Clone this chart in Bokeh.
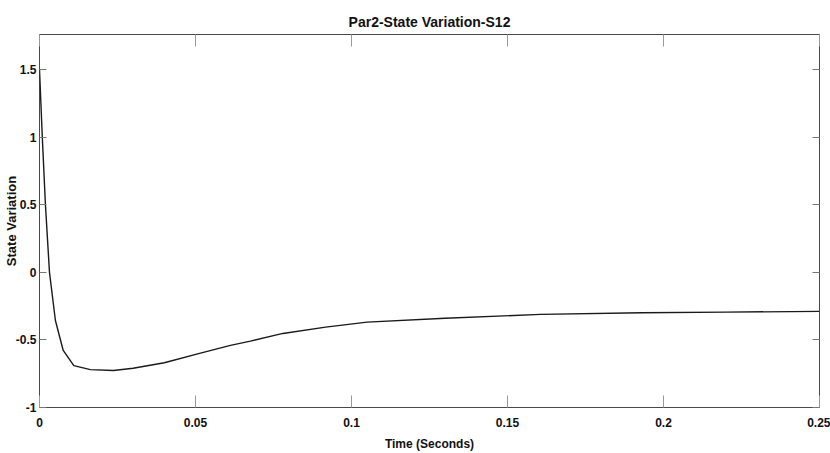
from bokeh.plotting import figure
from bokeh.models import Range1d, LinearAxis, FixedTicker
from bokeh.embed import file_html
from bokeh.resources import INLINE

# Data (time in seconds, state variation)
time_s = [0.0, 0.0009, 0.0019, 0.0032, 0.0051, 0.0076, 0.011, 0.0163, 0.0237,
          0.030, 0.040, 0.0516, 0.0612, 0.0676, 0.078, 0.0917, 0.105, 0.130,
          0.1606, 0.193, 0.220, 0.250]
state_var = [1.5, 1.0, 0.5, 0.0, -0.356, -0.578, -0.69, -0.72, -0.726,
             -0.71, -0.669, -0.598, -0.54, -0.509, -0.452, -0.405, -0.368, -0.34,
             -0.311, -0.299, -0.294, -0.289]

x_ticks = [0, 0.05, 0.1, 0.15, 0.2, 0.25]
x_tick_labels = {0: "0", 0.05: "0.05", 0.1: "0.1", 0.15: "0.15", 0.2: "0.2", 0.25: "0.25"}
y_ticks = [-1, -0.5, 0, 0.5, 1, 1.5]
y_tick_labels = {-1: "-1", -0.5: "-0.5", 0: "0", 0.5: "0.5", 1: "1", 1.5: "1.5"}

TITLE = "Par2-State Variation-S12"
X_LABEL = "Time (Seconds)"
Y_LABEL = "State Variation"

FONT = "Liberation Sans"

p = figure(width=830, height=453, output_backend="svg", toolbar_location=None,
           x_range=Range1d(0, 0.25), y_range=Range1d(-1, 1.76),
           x_axis_location=None, y_axis_location=None,
           min_border_left=39, min_border_right=11, min_border_top=34, min_border_bottom=46)

p.background_fill_color = "white"
p.border_fill_color = "white"
p.outline_line_color = "#4a4a4a"
p.outline_line_width = 1
p.xgrid.visible = False
p.ygrid.visible = False

p.title.text = TITLE
p.title.align = "center"
p.title.text_font = FONT
p.title.text_font_size = "14px"
p.title.text_font_style = "bold"
p.title.text_color = "#111111"

def style_axis(ax, tick_len, tick_color, labels, shown=True):
    ax.axis_line_color = None
    ax.major_tick_in = tick_len
    ax.major_tick_out = 0
    ax.minor_tick_in = 0
    ax.minor_tick_out = 0
    ax.minor_tick_line_color = None
    ax.major_tick_line_color = tick_color
    ax.major_tick_line_width = 1
    if shown:
        ax.major_label_overrides = labels
        ax.major_label_text_font = FONT
        ax.major_label_text_font_size = "12px"
        ax.major_label_text_font_style = "bold"
        ax.major_label_text_color = "#111111"
    else:
        ax.major_label_text_font_size = "0px"
        ax.major_label_text_color = None
        ax.major_label_standoff = 0

xb = LinearAxis(ticker=FixedTicker(ticks=x_ticks))
style_axis(xb, 12, "#999999", x_tick_labels)
xb.major_label_standoff = 10
xb.axis_label = X_LABEL
xb.axis_label_text_font = FONT
xb.axis_label_text_font_size = "12px"
xb.axis_label_text_font_style = "bold"
xb.axis_label_text_color = "#111111"
xb.axis_label_standoff = 7
p.add_layout(xb, "below")

yl = LinearAxis(ticker=FixedTicker(ticks=y_ticks))
style_axis(yl, 7, "#777777", y_tick_labels)
yl.major_label_standoff = 3
yl.axis_label = Y_LABEL
yl.axis_label_text_font = FONT
yl.axis_label_text_font_size = "13px"
yl.axis_label_text_font_style = "bold"
yl.axis_label_text_color = "#111111"
yl.axis_label_standoff = -6
p.add_layout(yl, "left")

xt = LinearAxis(ticker=FixedTicker(ticks=x_ticks))
style_axis(xt, 12, "#999999", x_tick_labels, shown=False)
p.add_layout(xt, "above")

yr = LinearAxis(ticker=FixedTicker(ticks=y_ticks))
style_axis(yr, 7, "#777777", y_tick_labels, shown=False)
p.add_layout(yr, "right")

p.line(time_s, state_var, line_color="#1a1a1a", line_width=1.4)

open("out.html", "w").write(file_html(p, INLINE))
